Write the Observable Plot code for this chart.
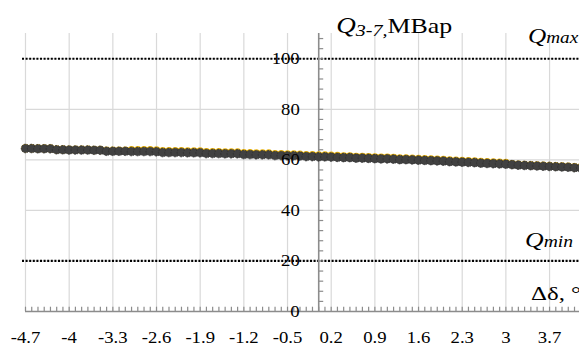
<!DOCTYPE html>
<html><head><meta charset="utf-8">
<script src="https://cdn.jsdelivr.net/npm/d3@7"></script>
<script src="https://cdn.jsdelivr.net/npm/@observablehq/plot@0.6"></script>
<style>html,body{margin:0;padding:0;background:#fff}svg{display:block}</style>
</head><body><div id="chart"></div>
<script>
const xValues = [-4.7,-4.6,-4.5,-4.4,-4.3,-4.2,-4.1,-4.0,-3.9,-3.8,-3.7,-3.6,-3.5,-3.4,-3.3,-3.2,-3.1,-3.0,-2.9,-2.8,-2.7,-2.6,-2.5,-2.4,-2.3,-2.2,-2.1,-2.0,-1.9,-1.8,-1.7,-1.6,-1.5,-1.4,-1.3,-1.2,-1.1,-1.0,-0.9,-0.8,-0.7,-0.6,-0.5,-0.4,-0.3,-0.2,-0.1,0.0,0.1,0.2,0.3,0.4,0.5,0.6,0.7,0.8,0.9,1.0,1.1,1.2,1.3,1.4,1.5,1.6,1.7,1.8,1.9,2.0,2.1,2.2,2.3,2.4,2.5,2.6,2.7,2.8,2.9,3.0,3.1,3.2,3.3,3.4,3.5,3.6,3.7,3.8,3.9,4.0,4.1,4.2];
const qMain = [64.5,64.5,64.4,64.4,64.4,64.0,64.0,63.9,63.9,63.9,63.9,63.8,63.8,63.4,63.4,63.4,63.4,63.3,63.3,63.3,63.3,63.2,62.9,62.9,62.9,62.9,62.8,62.8,62.8,62.5,62.5,62.5,62.4,62.4,62.4,62.1,62.1,62.0,62.0,62.0,61.7,61.7,61.6,61.6,61.5,61.3,61.3,61.2,61.2,61.1,61.0,60.9,60.9,60.7,60.7,60.6,60.5,60.4,60.4,60.3,60.1,60.1,60.0,59.9,59.8,59.7,59.6,59.5,59.3,59.2,59.1,59.0,58.9,58.7,58.6,58.5,58.4,58.3,58.1,57.9,57.8,57.7,57.6,57.5,57.4,57.3,57.2,57.1,56.9,56.8];
const qAlt = [64.6,64.6,64.5,64.5,64.5,64.1,64.1,64.0,64.0,64.0,64.0,63.9,63.9,63.6,63.6,63.6,63.6,63.8,63.8,63.8,63.8,63.7,63.4,63.4,63.4,63.4,63.3,63.3,63.3,63.0,63.0,63.0,62.9,62.9,62.9,62.6,62.6,62.5,62.5,62.5,62.2,62.2,62.1,62.1,62.0,61.8,61.8,61.7,61.7,61.6,61.5,61.4,61.4,61.2,61.2,61.1,61.0,60.9,60.9,60.8,60.6,60.6,60.5,60.4,60.3,60.2,60.1,60.0,59.8,59.7,59.6,59.5,59.4,59.2,59.1,59.0,58.9,58.8,58.3,58.1,58.0,57.9,57.8,57.7,57.6,57.5,57.4,57.3,57.1,57.0];
const xTicks = [-4.7,-4,-3.3,-2.6,-1.9,-1.2,-0.5,0.2,0.9,1.6,2.3,3,3.7];
const xTickLabels = ["-4.7","-4","-3.3","-2.6","-1.9","-1.2","-0.5","0.2","0.9","1.6","2.3","3","3.7"];
const yTicks = [0,20,40,60,80,100];
const yMinorTicks = [4,8,12,16,20,24,28,32,36,40,44,48,52,56,60,64,68,72,76,80,84,88,92,96,100,104,108];
const qLimits = [20,100];

const serif = "'Liberation Serif','Times New Roman',serif";
const mainData = xValues.map((x, i) => ({x, q: qMain[i]}));
const altData = xValues.map((x, i) => ({x, q: qAlt[i]}));
const axisGray = "#8c8c8c";

const chart = Plot.plot({
  width: 579, height: 346,
  marginLeft: 25, marginRight: 0, marginTop: 33, marginBottom: 35,
  x: {domain: [-4.7, 4.18], axis: null},
  y: {domain: [0, 110], axis: null},
  style: {fontFamily: serif, background: "#fff", color: "#000"},
  marks: [
    Plot.ruleX(xTicks, {stroke: "#d9d9d9", strokeWidth: 1.2}),
    Plot.ruleY(yTicks.slice(1), {stroke: "#d9d9d9", strokeWidth: 1.2}),
    Plot.ruleY(qLimits, {stroke: "#000", strokeWidth: 2.2, strokeDasharray: "2,1.6", insetLeft: -3}),
    Plot.ruleX([0], {stroke: axisGray, strokeWidth: 1.6}),
    Plot.ruleY([0], {stroke: axisGray, strokeWidth: 1.6}),
    Plot.ruleX(xValues, {y1: 0, y2: 1.7, stroke: axisGray, strokeWidth: 1.2}),
    Plot.ruleY(yMinorTicks, {x1: 0, x2: 0.08, stroke: axisGray, strokeWidth: 1.2}),
    Plot.line(altData, {x: "x", y: "q", stroke: "#e8b20c", strokeWidth: 3}),
    Plot.dot(altData, {x: "x", y: "q", r: 4.2, fill: "#e8b20c", stroke: "none"}),
    Plot.line(mainData, {x: "x", y: "q", stroke: "#404040", strokeWidth: 3}),
    Plot.dot(mainData, {x: "x", y: "q", r: 4.3, fill: "#414141", stroke: "#2e2e2e", strokeWidth: 0.8, strokeDasharray: "2,1"}),
    Plot.text(yTicks, {x: 0, y: d => d, dx: -19, textAnchor: "end", fontSize: 17, fill: "#000"}),
    Plot.text(xTicks, {x: d => d, y: 0, dy: 26, text: (d, i) => xTickLabels[i], fontSize: 17, fill: "#000"})
  ]
});
document.getElementById("chart").append(chart);

// stretch tick labels slightly to match the wide rendering of the reference
chart.querySelectorAll("text").forEach(t => {
  const w = t.getComputedTextLength();
  t.setAttribute("textLength", (w * 1.1).toFixed(1));
  t.setAttribute("lengthAdjust", "spacingAndGlyphs");
});

const sx = chart.scale("x"), sy = chart.scale("y");
const svg = d3.select(chart);
function richText(x, y, parts, length) {
  const t = svg.append("text").attr("x", x).attr("y", y)
    .attr("text-anchor", "start")
    .attr("font-family", serif).attr("fill", "#000");
  parts.forEach(p => t.append("tspan")
    .attr("font-size", p.size)
    .attr("font-style", p.italic ? "italic" : "normal")
    .attr("dy", p.dy || 0)
    .text(p.text));
  const w = t.node().getComputedTextLength();
  t.attr("textLength", length || (w * 1.2).toFixed(1)).attr("lengthAdjust", "spacingAndGlyphs");
  return t;
}
richText(sx.apply(0) + 18, sy.apply(110), [
  {text: "Q", size: 23, italic: true},
  {text: "3-7,", size: 17, italic: true, dy: 3},
  {text: "МВар", size: 22, dy: -3}
], 116);
richText(sx.apply(3.7) - 21, sy.apply(100) - 15, [
  {text: "Q", size: 21, italic: true},
  {text: "max", size: 16, italic: true}
]);
richText(sx.apply(3.7) - 24, sy.apply(20) - 13, [
  {text: "Q", size: 21, italic: true},
  {text: "min", size: 16, italic: true}
], 48);
richText(sx.apply(3.7) - 18, sy.apply(0) - 11, [
  {text: "Δδ, °", size: 19}
], 50);
</script>
</body></html>
